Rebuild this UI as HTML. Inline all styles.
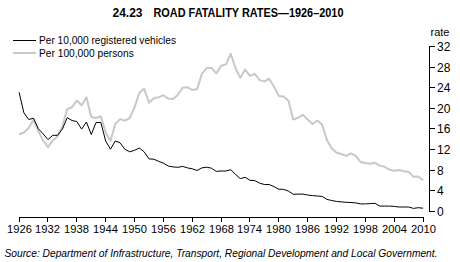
<!DOCTYPE html>
<html><head><meta charset="utf-8"><style>
html,body{margin:0;padding:0;background:#fff;width:460px;height:262px;overflow:hidden}
svg{display:block;font-family:"Liberation Sans",sans-serif}
</style></head><body>
<svg width="460" height="262" viewBox="0 0 460 262">
<text x="112.5" y="17" font-size="12" font-weight="bold" fill="#000">24.23</text>
<text x="153.5" y="17" font-size="12" font-weight="bold" fill="#000" textLength="190" lengthAdjust="spacingAndGlyphs">ROAD FATALITY RATES—1926–2010</text>
<line x1="13" y1="40.5" x2="36" y2="40.5" stroke="#000" stroke-width="1"/>
<line x1="13" y1="53" x2="36" y2="53" stroke="#c8c8c8" stroke-width="2"/>
<text x="39" y="43.7" font-size="10.3" fill="#000" textLength="137" lengthAdjust="spacingAndGlyphs">Per 10,000 registered vehicles</text>
<text x="39" y="57.2" font-size="10.3" fill="#000" textLength="94.8" lengthAdjust="spacingAndGlyphs">Per 100,000 persons</text>
<text x="430.5" y="35.8" font-size="11" fill="#000">rate</text>
<g stroke="#000" stroke-width="1" fill="none">
<line x1="429.5" y1="46" x2="429.5" y2="212"/>
<line x1="429" y1="211.5" x2="435" y2="211.5"/><line x1="429" y1="190.5" x2="435" y2="190.5"/><line x1="429" y1="170.5" x2="435" y2="170.5"/><line x1="429" y1="149.5" x2="435" y2="149.5"/><line x1="429" y1="128.5" x2="435" y2="128.5"/><line x1="429" y1="108.5" x2="435" y2="108.5"/><line x1="429" y1="87.5" x2="435" y2="87.5"/><line x1="429" y1="67.5" x2="435" y2="67.5"/><line x1="429" y1="46.5" x2="435" y2="46.5"/>
<line x1="19" y1="217.5" x2="424" y2="217.5"/>
<line x1="19.5" y1="217" x2="19.5" y2="222"/><line x1="47.5" y1="217" x2="47.5" y2="222"/><line x1="76.5" y1="217" x2="76.5" y2="222"/><line x1="105.5" y1="217" x2="105.5" y2="222"/><line x1="134.5" y1="217" x2="134.5" y2="222"/><line x1="163.5" y1="217" x2="163.5" y2="222"/><line x1="192.5" y1="217" x2="192.5" y2="222"/><line x1="221.5" y1="217" x2="221.5" y2="222"/><line x1="249.5" y1="217" x2="249.5" y2="222"/><line x1="278.5" y1="217" x2="278.5" y2="222"/><line x1="307.5" y1="217" x2="307.5" y2="222"/><line x1="336.5" y1="217" x2="336.5" y2="222"/><line x1="365.5" y1="217" x2="365.5" y2="222"/><line x1="394.5" y1="217" x2="394.5" y2="222"/><line x1="423.5" y1="217" x2="423.5" y2="222"/>
</g>
<g font-size="12" fill="#000"><text x="437" y="215.5">0</text><text x="437" y="194.5">4</text><text x="437" y="174.5">8</text><text x="437" y="153.5">12</text><text x="437" y="132.5">16</text><text x="437" y="112.5">20</text><text x="437" y="91.5">24</text><text x="437" y="71.5">28</text><text x="437" y="50.5">32</text></g>
<g font-size="11.2" fill="#000"><text x="19.50" y="233" text-anchor="middle">1926</text><text x="47.50" y="233" text-anchor="middle">1932</text><text x="76.50" y="233" text-anchor="middle">1938</text><text x="105.50" y="233" text-anchor="middle">1944</text><text x="134.50" y="233" text-anchor="middle">1950</text><text x="163.50" y="233" text-anchor="middle">1956</text><text x="192.50" y="233" text-anchor="middle">1962</text><text x="221.50" y="233" text-anchor="middle">1968</text><text x="249.50" y="233" text-anchor="middle">1974</text><text x="278.50" y="233" text-anchor="middle">1980</text><text x="307.50" y="233" text-anchor="middle">1986</text><text x="336.50" y="233" text-anchor="middle">1992</text><text x="365.50" y="233" text-anchor="middle">1998</text><text x="394.50" y="233" text-anchor="middle">2004</text><text x="423.50" y="233" text-anchor="middle">2010</text></g>
<polyline points="19.10,134.4 23.91,132.5 28.72,128.1 33.53,119.5 38.34,131.4 43.15,140.5 47.96,147.2 52.77,140.5 57.58,136.5 62.39,126.3 67.20,109.1 72.00,107.2 76.81,100.5 81.62,105.3 86.43,97.3 91.24,117.0 96.05,118.0 100.86,116.3 105.67,132.4 110.48,141.0 115.29,123.9 120.10,119.1 124.91,120.6 129.72,118.0 134.53,107.4 139.34,92.9 144.15,88.5 148.96,102.8 153.77,98.2 158.58,97.3 163.39,95.2 168.20,98.6 173.00,99.0 177.81,94.8 182.62,87.8 187.43,87.2 192.24,90.0 197.05,89.1 201.86,73.9 206.67,68.1 211.48,67.9 216.29,73.4 221.10,65.8 225.91,64.4 230.72,53.7 235.53,68.2 240.34,77.8 245.15,69.6 249.96,75.8 254.77,73.8 259.58,80.0 264.39,81.4 269.20,78.7 274.00,86.7 278.81,95.9 283.62,96.5 288.43,100.8 293.24,119.6 298.05,117.7 302.86,114.8 307.67,119.6 312.48,124.0 317.29,120.5 322.10,124.5 326.91,140.0 331.72,148.2 336.53,152.8 341.34,154.0 346.15,155.9 350.96,153.4 355.77,155.9 360.58,162.0 365.39,163.0 370.20,163.7 375.00,162.8 379.81,165.6 384.62,166.8 389.43,169.7 394.24,170.8 399.05,170.0 403.86,171.2 408.67,171.9 413.48,176.8 418.29,176.5 423.10,180.2" fill="none" stroke="#c8c8c8" stroke-width="2" stroke-linejoin="round"/>
<polyline points="19.10,92.4 23.91,112.9 28.72,119.5 33.53,118.2 38.34,128.7 43.15,133.9 47.96,139.6 52.77,135.3 57.58,135.3 62.39,129.1 67.20,117.7 72.00,120.5 76.81,121.5 81.62,129.1 86.43,122.0 91.24,134.5 96.05,122.5 100.86,122.5 105.67,141.0 110.48,149.2 115.29,141.0 120.10,142.8 124.91,149.3 129.72,151.8 134.53,150.3 139.34,148.0 144.15,151.8 148.96,158.9 153.77,159.2 158.58,161.3 163.39,163.2 168.20,166.0 173.00,166.9 177.81,167.3 182.62,166.4 187.43,167.9 192.24,168.8 197.05,170.5 201.86,167.9 206.67,167.2 211.48,168.2 216.29,171.4 221.10,171.0 225.91,171.0 230.72,169.7 235.53,174.4 240.34,178.6 245.15,177.3 249.96,180.3 254.77,180.6 259.58,183.1 264.39,184.5 269.20,184.5 274.00,186.6 278.81,189.2 283.62,189.4 288.43,191.0 293.24,194.3 298.05,194.1 302.86,194.1 307.67,195.0 312.48,195.6 317.29,196.0 322.10,196.4 326.91,199.4 331.72,200.5 336.53,201.4 341.34,201.9 346.15,202.3 350.96,202.5 355.77,202.9 360.58,203.9 365.39,203.9 370.20,203.6 375.00,203.3 379.81,206.1 384.62,206.1 389.43,206.1 394.24,206.4 399.05,207.0 403.86,207.0 408.67,207.0 413.48,208.4 418.29,207.7 423.10,208.2" fill="none" stroke="#000" stroke-width="1" stroke-linejoin="round"/>
<text x="4.5" y="256.5" font-size="11" font-style="italic" fill="#000" textLength="433" lengthAdjust="spacingAndGlyphs">Source: Department of Infrastructure, Transport, Regional Development and Local Government.</text>
</svg>
</body></html>
